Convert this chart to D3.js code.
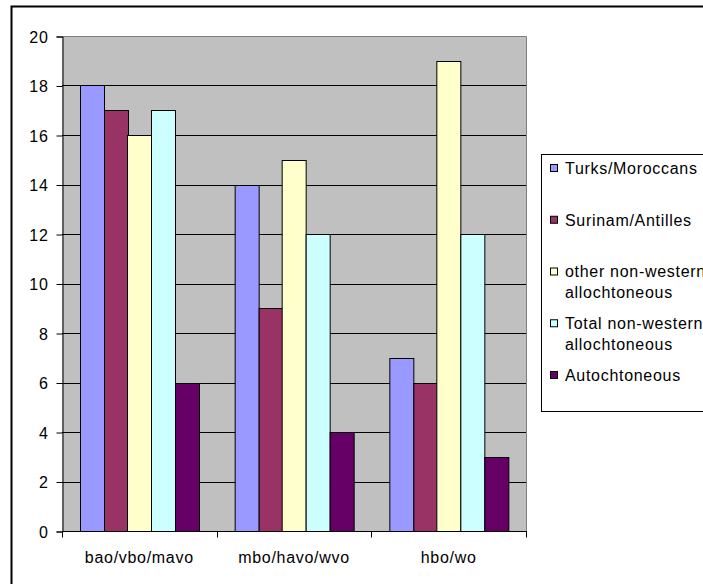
<!DOCTYPE html>
<html>
<head>
<meta charset="utf-8">
<script src="https://cdn.jsdelivr.net/npm/d3@7"></script>
<style>
  html, body { margin: 0; padding: 0; background: #fff; overflow: hidden; }
  svg { display: block; }
  text { font-family: "Liberation Sans", Arial, sans-serif; font-size: 16px; letter-spacing: 0.7px; fill: #000; }
</style>
</head>
<body>
<svg id="chart" width="703" height="584"></svg>
<script>
// Education level groups and the share per origin group
const categories = ["bao/vbo/mavo", "mbo/havo/wvo", "hbo/wo"];
const seriesNames = [
  ["Turks/Moroccans"],
  ["Surinam/Antilles"],
  ["other non-western", "allochtoneous"],
  ["Total non-western", "allochtoneous"],
  ["Autochtoneous"]
];
const turksMoroccans   = [18, 14, 7];
const surinamAntilles  = [17, 9, 6];
const otherNonWestern  = [16, 15, 19];
const totalNonWestern  = [17, 12, 12];
const autochtoneous    = [6, 4, 3];
const seriesValues = [turksMoroccans, surinamAntilles, otherNonWestern, totalNonWestern, autochtoneous];
const yTicks = [0, 2, 4, 6, 8, 10, 12, 14, 16, 18, 20];

const colors = ["#9999FF", "#993366", "#FFFFCC", "#CCFFFF", "#660066"];

const svg = d3.select("#chart");

// outer chart frame
svg.append("rect")
  .attr("x", 11.5).attr("y", 6.5)
  .attr("width", 900).attr("height", 900)
  .attr("fill", "#fff").attr("stroke", "#000").attr("stroke-width", 2);

const plot = { left: 62, right: 526, top: 36, bottom: 531 };

const y = d3.scaleLinear().domain([0, 20]).range([plot.bottom, plot.top]);
const x = d3.scaleBand().domain(categories).range([plot.left, plot.right]).padding(0);
const xInner = d3.scaleBand()
  .domain(d3.range(seriesValues.length))
  .range([0, x.bandwidth()])
  .paddingInner(0).paddingOuter(0.75);

// plot area background
svg.append("rect")
  .attr("x", plot.left).attr("y", plot.top)
  .attr("width", plot.right - plot.left).attr("height", plot.bottom - plot.top)
  .attr("fill", "#C0C0C0");

// horizontal gridlines
svg.append("g").selectAll("line")
  .data(yTicks.filter(t => t > 0 && t < 20))
  .join("line")
  .attr("x1", plot.left).attr("x2", plot.right)
  .attr("y1", d => Math.round(y(d)) + 0.5).attr("y2", d => Math.round(y(d)) + 0.5)
  .attr("stroke", "#000").attr("stroke-width", 1);

// plot area border (top and right)
svg.append("path")
  .attr("d", `M${plot.left},${plot.top + 0.5}H${plot.right + 0.5}V${plot.bottom}`)
  .attr("fill", "none").attr("stroke", "#808080").attr("stroke-width", 1);

// bars
const groups = svg.append("g").selectAll("g")
  .data(categories)
  .join("g")
  .attr("transform", d => `translate(${x(d)},0)`);

groups.selectAll("rect")
  .data((d, ci) => seriesValues.map((vals, si) => ({ si, v: vals[ci] })))
  .join("rect")
  .attr("x", d => Math.round(xInner(d.si)) + 0.5)
  .attr("y", d => Math.round(y(d.v)) + 0.5)
  .attr("width", Math.round(xInner.bandwidth()))
  .attr("height", d => Math.round(y(0)) - Math.round(y(d.v)))
  .attr("fill", d => colors[d.si])
  .attr("stroke", "#000").attr("stroke-width", 1);

// y axis
const yAxis = d3.axisLeft(y).tickValues(yTicks).tickSize(6).tickPadding(8);
const gy = svg.append("g")
  .attr("transform", `translate(${plot.left + 0.5},0.5)`)
  .call(yAxis);
gy.select(".domain").attr("stroke", "#000");
gy.selectAll(".tick line").attr("stroke", "#000");
gy.selectAll("text").attr("font-size", null).attr("font-family", null).attr("dy", "0.36em");

// x axis with ticks at category boundaries
const gx = svg.append("g").attr("transform", `translate(0,${plot.bottom + 0.5})`);
gx.append("line")
  .attr("x1", plot.left).attr("x2", plot.right + 1)
  .attr("stroke", "#000");
gx.selectAll("line.tk")
  .data(categories.map(c => x(c)).concat([plot.right]))
  .join("line").attr("class", "tk")
  .attr("x1", d => Math.round(d) + 0.5).attr("x2", d => Math.round(d) + 0.5)
  .attr("y1", 0).attr("y2", 6).attr("stroke", "#000");
gx.selectAll("text")
  .data(categories)
  .join("text")
  .attr("x", d => x(d) + x.bandwidth() / 2)
  .attr("y", 31)
  .attr("text-anchor", "middle")
  .text(d => d);

// legend
const legend = svg.append("g");
legend.append("rect")
  .attr("x", 541.5).attr("y", 154.5)
  .attr("width", 300).attr("height", 257)
  .attr("fill", "#fff").attr("stroke", "#000").attr("stroke-width", 1);

const rowStep = 51.75, lineStep = 21, firstRow = 168;
const rows = legend.selectAll("g.row")
  .data(seriesNames)
  .join("g").attr("class", "row")
  .attr("transform", (d, i) => `translate(0,${firstRow + i * rowStep})`);
rows.append("rect")
  .attr("x", 550.5).attr("y", -3.5)
  .attr("width", 7).attr("height", 7)
  .attr("fill", (d, i) => colors[i])
  .attr("stroke", "#000").attr("stroke-width", 1);
rows.selectAll("text")
  .data(d => d)
  .join("text")
  .attr("x", 565)
  .attr("y", (d, j) => j * lineStep)
  .attr("dy", "0.36em")
  .text(d => d);
</script>
</body>
</html>
